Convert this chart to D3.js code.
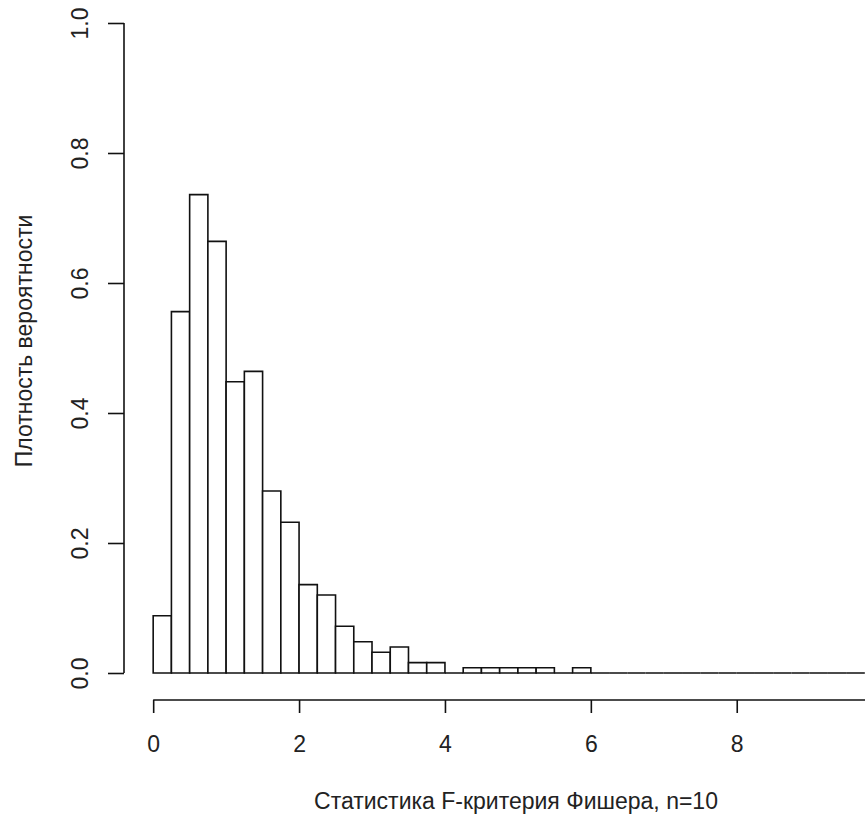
<!DOCTYPE html>
<html>
<head>
<meta charset="utf-8">
<script src="https://cdn.jsdelivr.net/npm/d3@7"></script>
<style>
  html, body { margin: 0; padding: 0; background: #fff; }
  svg { display: block; }
  text { font-family: "Liberation Sans", Arial, sans-serif; fill: #222; }
</style>
</head>
<body>
<svg id="chart" width="865" height="817"></svg>
<script>
// Histogram bins (width 0.25) from 0 to 10
const binWidth = 0.25;
const binStarts = d3.range(0, 10, 0.25);
const densities = [
  0.088, 0.556, 0.736, 0.664, 0.448, 0.464, 0.280, 0.232,
  0.136, 0.120, 0.072, 0.048, 0.032, 0.040, 0.016, 0.016,
  0.000, 0.008, 0.008, 0.008, 0.008, 0.008, 0.000, 0.008,
  0, 0, 0, 0, 0, 0, 0, 0,
  0, 0, 0, 0, 0, 0, 0, 0
];
const xTicks = [0, 2, 4, 6, 8, 10];
const yTicks = [0, 0.2, 0.4, 0.6, 0.8, 1.0];
const xLabel = "Статистика F-критерия Фишера, n=10";
const yLabel = "Плотность вероятности";

const svg = d3.select("#chart");
const x = d3.scaleLinear().domain([-0.4, 10.4]).range([124, 911.8]);
const y = d3.scaleLinear().domain([0, 1]).range([673, 23]);

const bins = binStarts.map((s, i) => ({ x0: s, x1: s + binWidth, d: densities[i] }));

// Bars drawn as closed paths so zero-height bins still show on the baseline
svg.append("g")
  .selectAll("path")
  .data(bins)
  .enter().append("path")
  .attr("d", d => {
    const p = d3.path();
    p.moveTo(x(d.x0), y(0));
    p.lineTo(x(d.x0), y(d.d));
    p.lineTo(x(d.x1), y(d.d));
    p.lineTo(x(d.x1), y(0));
    p.closePath();
    return p.toString();
  })
  .attr("fill", "#fff")
  .attr("stroke", "#111")
  .attr("stroke-width", 1.6)
  .attr("stroke-linejoin", "miter");

// X axis
const xAxis = d3.axisBottom(x).tickValues(xTicks).tickSize(13).tickSizeOuter(0).tickPadding(23)
  .tickFormat(d3.format("d"));
const gx = svg.append("g").attr("transform", "translate(0,700)").call(xAxis);
gx.select(".domain").remove();
gx.append("line").attr("x1", x(0)).attr("x2", x(10)).attr("y1", 0).attr("y2", 0)
  .attr("stroke", "#111").attr("stroke-width", 1.6);
gx.selectAll(".tick line").attr("stroke", "#111").attr("stroke-width", 1.6);
gx.selectAll(".tick text").attr("font-size", 23).attr("fill", "#222")
  .attr("font-family", "Liberation Sans, Arial, sans-serif");

// Y axis
const yAxis = d3.axisLeft(y).tickValues(yTicks).tickSize(16).tickSizeOuter(0)
  .tickFormat(d3.format(".1f"));
const gy = svg.append("g").attr("transform", "translate(124,0)").call(yAxis);
gy.select(".domain").remove();
gy.append("line").attr("x1", 0).attr("x2", 0).attr("y1", y(0)).attr("y2", y(1))
  .attr("stroke", "#111").attr("stroke-width", 1.6);
gy.selectAll(".tick line").attr("stroke", "#111").attr("stroke-width", 1.6);
gy.selectAll(".tick text")
  .attr("font-size", 23).attr("fill", "#222")
  .attr("font-family", "Liberation Sans, Arial, sans-serif")
  .attr("x", null).attr("dy", null)
  .attr("text-anchor", "middle")
  .attr("transform", "translate(-36,0) rotate(-90)");

// Axis titles
svg.append("text")
  .attr("x", 516).attr("y", 809)
  .attr("text-anchor", "middle")
  .attr("font-size", 23)
  .text(xLabel);

svg.append("text")
  .attr("transform", "translate(32,341) rotate(-90)")
  .attr("text-anchor", "middle")
  .attr("font-size", 23)
  .text(yLabel);
</script>
</body>
</html>
